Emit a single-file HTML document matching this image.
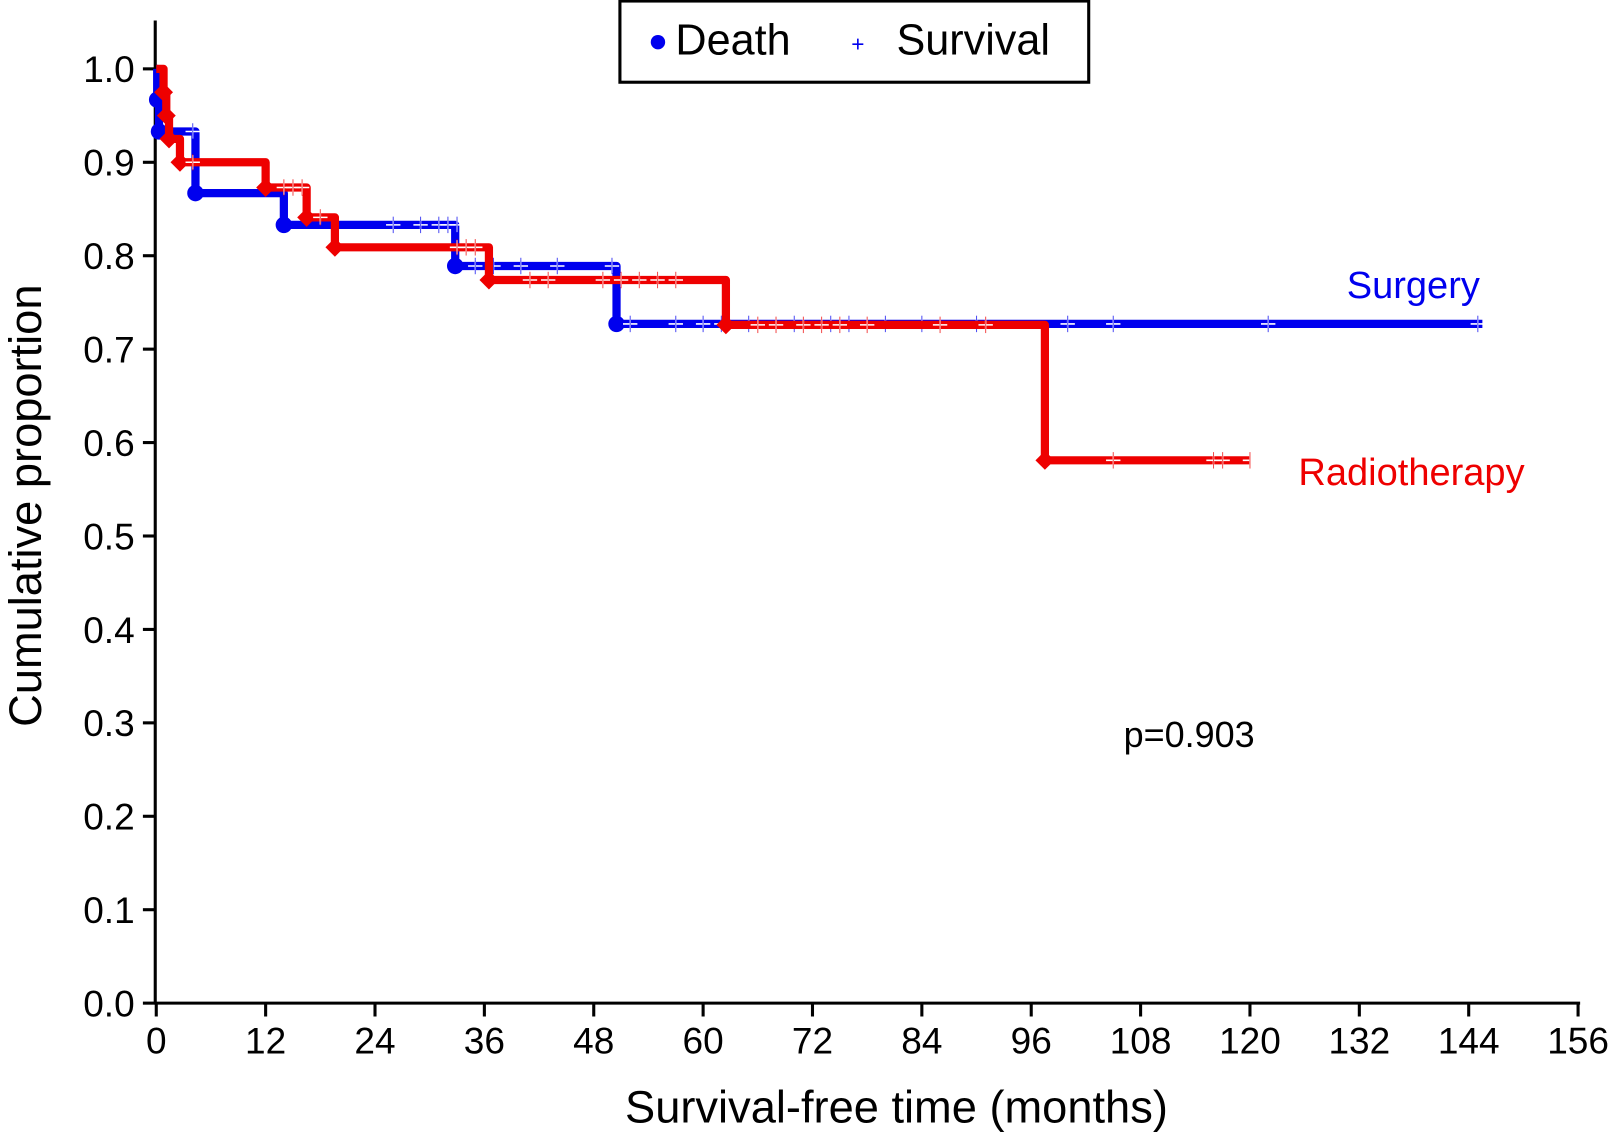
<!DOCTYPE html>
<html><head><meta charset="utf-8">
<style>
html,body{margin:0;padding:0;background:#fff;}
svg{display:block;font-family:"Liberation Sans",Arial,sans-serif;}
</style></head>
<body>
<svg id="chart" width="1612" height="1146" viewBox="0 0 1568 1115" preserveAspectRatio="none" xmlns="http://www.w3.org/2000/svg">
<g id="axes"></g>
<g id="series"></g>
<g>
  <rect x="603" y="1" width="456" height="79" fill="#fff" stroke="#000" stroke-width="3"/>
  <circle cx="640" cy="41" r="7" fill="#0000ee"/>
  <text x="657" y="53" font-size="42">Death</text>
  <text x="828" y="50" font-size="22" fill="#0000ee">+</text>
  <text x="872" y="53" font-size="42">Survival</text>
</g>
<text x="1310" y="290" font-size="37" fill="#0000ee">Surgery</text>
<text x="1263" y="472" font-size="37" fill="#ee0000">Radiotherapy</text>
<text x="1093" y="727" font-size="35">p=0.903</text>
<text x="872" y="1092" font-size="44" text-anchor="middle">Survival-free time (months)</text>
<text transform="translate(40,492) rotate(-90)" font-size="44" text-anchor="middle">Cumulative proportion</text>
</svg>
<script>
const xTicks=[0,12,24,36,48,60,72,84,96,108,120,132,144,156];
const yTicks=[0.0,0.1,0.2,0.3,0.4,0.5,0.6,0.7,0.8,0.9,1.0];
const surgeryTimes=[0,0.1,0.3,4.3,14,32.8,50.5];
const surgeryVals=[1.0,0.967,0.933,0.867,0.833,0.789,0.727];
const surgeryEnd=145.5;
const surgeryCensT=[4,26,29,31,32,33,35,37,40,44,50,52,57,60,62,65,70,74,76,80,84,90,100,105,122,145];
const surgeryCensV=[0.933,0.833,0.833,0.833,0.833,0.833,0.789,0.789,0.789,0.789,0.789,0.727,0.727,0.727,0.727,0.727,0.727,0.727,0.727,0.727,0.727,0.727,0.727,0.727,0.727,0.727];
const radioTimes=[0,0.8,1.1,1.4,2.6,12,16.5,19.6,36.5,62.5,97.5];
const radioVals=[1.0,0.975,0.95,0.925,0.9,0.873,0.841,0.809,0.774,0.726,0.581];
const radioEnd=120;
const radioCensT=[4,14,15,16,18,33,34,35,41,43,49,51,53,55,57,66,68,71,73,75,78,86,91,105,116,117,120];
const radioCensV=[0.9,0.873,0.873,0.873,0.841,0.809,0.809,0.809,0.774,0.774,0.774,0.774,0.774,0.774,0.774,0.726,0.726,0.726,0.726,0.726,0.726,0.726,0.726,0.581,0.581,0.581,0.581];

const NS='http://www.w3.org/2000/svg';
const X=t=>152+t*(1535-152)/156;
const Y=v=>976-v*909;
function mk(tag,attrs,parent){const e=document.createElementNS(NS,tag);for(const k in attrs)e.setAttribute(k,attrs[k]);parent.appendChild(e);return e;}
const axes=document.getElementById('axes');
let a=mk('line',{x1:151,y1:20,x2:151,y2:977,stroke:'#000','stroke-width':3},axes);


a=mk('line',{x1:150,y1:976,x2:1537,y2:976,stroke:'#000','stroke-width':3},axes);


xTicks.forEach(t=>{
  const l=mk('line',{x1:X(t),y1:976,x2:X(t),y2:989,stroke:'#000','stroke-width':3},axes);
  
  
  const tx=mk('text',{x:X(t),y:1025,'font-size':36,'text-anchor':'middle'},axes);
  tx.textContent=t;
  
  
});
yTicks.forEach(v=>{
  const l=mk('line',{x1:139,y1:Y(v),x2:151,y2:Y(v),stroke:'#000','stroke-width':3},axes);
  
  
  const tx=mk('text',{x:131,y:Y(v)+13,'font-size':36,'text-anchor':'end'},axes);
  tx.textContent=v.toFixed(1);
  
  
});
const ser=document.getElementById('series');
function curve(times,vals,end,ct,cv,color,name,marker){
  let d='M'+X(times[0])+','+Y(vals[0]);
  for(let i=1;i<times.length;i++){d+=' H'+X(times[i])+' V'+Y(vals[i]);}
  d+=' H'+X(end);
  const p=mk('path',{d:d,fill:'none',stroke:color,'stroke-width':8,'stroke-linejoin':'round'},ser);
  
  
  for(let i=1;i<times.length;i++){
    const x=X(times[i]),y=Y(vals[i]);
    let m;
    if(marker==='circle'){m=mk('circle',{cx:x,cy:y,r:8,fill:color},ser);}
    else{m=mk('rect',{x:x-6.5,y:y-6.5,width:13,height:13,fill:color,transform:`rotate(45 ${x} ${y})`},ser);}
    
    
  }
  ct.forEach((t,i)=>{
    const x=X(t),y=Y(cv[i]);
    const c=mk('path',{d:`M${x-7},${y} H${x+7} M${x},${y-7} V${y+7}`,stroke:'#fff','stroke-width':1.5,fill:'none'},ser);
    
    
    const c2=mk('path',{d:`M${x},${y-8} V${y+8}`,stroke:color,'stroke-width':1,fill:'none',opacity:0.7},ser);
    
    
  });
}
curve(surgeryTimes,surgeryVals,surgeryEnd,surgeryCensT,surgeryCensV,'#0000ee','surgery','circle');
curve(radioTimes,radioVals,radioEnd,radioCensT,radioCensV,'#ee0000','radiotherapy','diamond');
</script>
</body></html>
